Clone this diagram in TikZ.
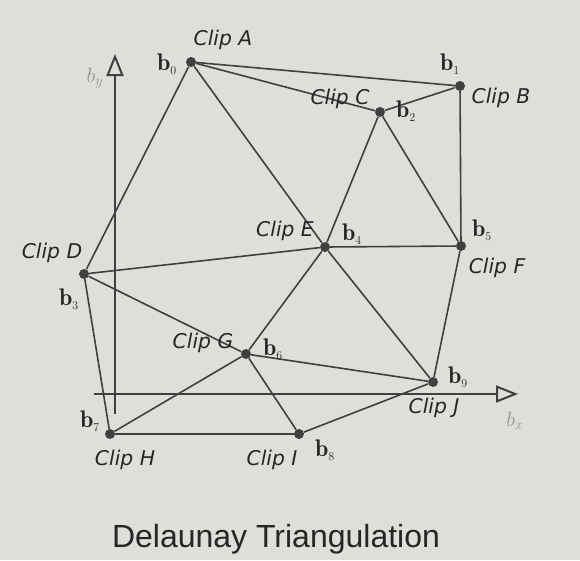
\documentclass[tikz,border=0pt]{standalone}
\usepackage{fontspec}
\setsansfont{DejaVu Sans}
\newfontfamily\titlefont{Liberation Sans}
\usetikzlibrary{arrows.meta}
\definecolor{bg}{RGB}{222,223,218}
\definecolor{ink}{RGB}{64,64,64}
\definecolor{txt}{RGB}{38,38,38}
\definecolor{axlab}{RGB}{150,150,150}
\tikzset{
  edge/.style={draw=ink, line width=1.6pt},
  axis/.style={draw=ink, line width=2pt, -{Triangle[open, length=22pt, width=17pt, line width=2pt]}},
  pt/.style={circle, fill=ink, inner sep=0pt, minimum size=10pt},
  clip/.style={font=\sffamily\itshape\fontsize{20.3}{21}\selectfont, text=txt, inner sep=0pt},
  blab/.style={font=\fontsize{24}{24}\selectfont, text=txt, inner sep=0pt},
  axl/.style={font=\fontsize{21}{21}\selectfont, text=axlab, inner sep=0pt},
}
\newcommand{\bl}[1]{$\mathbf{b}_{\scriptscriptstyle #1}$}
\begin{document}
\begin{tikzpicture}[x=1pt,y=-1pt]
\fill[bg] (0,0) rectangle (580,560);
\useasboundingbox (0,0) rectangle (580,560);
% axes
\coordinate (ax0) at (94,394);
\coordinate (ax1) at (518,394);
\coordinate (ay0) at (115,414);
\coordinate (ay1) at (115,54);
\draw[axis] (ax0) -- (ax1);
\draw[axis] (ay0) -- (ay1);
\node[axl] (lbx) at (515,421) {$b_x$};
\node[axl] (lby) at (95,78) {$b_y$};
% points
\node[pt] (b0) at (191,62) {};
\node[pt] (b1) at (460,86) {};
\node[pt] (b2) at (380,112) {};
\node[pt] (b3) at (84,274) {};
\node[pt] (b4) at (325,247) {};
\node[pt] (b5) at (461,246) {};
\node[pt] (b6) at (246,354) {};
\node[pt] (b7) at (110,434) {};
\node[pt] (b8) at (299,434) {};
\node[pt] (b9) at (433,382) {};
% edges
\path[edge] (b0) -- (b1);
\path[edge] (b0) -- (b2);
\path[edge] (b1) -- (b2);
\path[edge] (b1) -- (b5);
\path[edge] (b0) -- (b3);
\path[edge] (b0) -- (b4);
\path[edge] (b2) -- (b4);
\path[edge] (b2) -- (b5);
\path[edge] (b4) -- (b5);
\path[edge] (b3) -- (b4);
\path[edge] (b3) -- (b6);
\path[edge] (b3) -- (b7);
\path[edge] (b4) -- (b6);
\path[edge] (b4) -- (b9);
\path[edge] (b5) -- (b9);
\path[edge] (b6) -- (b9);
\path[edge] (b6) -- (b7);
\path[edge] (b6) -- (b8);
\path[edge] (b7) -- (b8);
\path[edge] (b8) -- (b9);
% clip labels
\node[clip] (cA) at (223,40) {Clip A};
\node[clip] (cB) at (501,98) {Clip B};
\node[clip] (cC) at (340,99) {Clip C};
\node[clip] (cD) at (52,253) {Clip D};
\node[clip] (cE) at (285,231) {Clip E};
\node[clip] (cF) at (497,268) {Clip F};
\node[clip] (cG) at (203,343) {Clip G};
\node[clip] (cH) at (125,460) {Clip H};
\node[clip] (cI) at (272,460) {Clip I};
\node[clip] (cJ) at (434,408) {Clip J};
% b labels
\node[blab] (l0) at (167,64) {\bl{0}};
\node[blab] (l1) at (450,64) {\bl{1}};
\node[blab] (l2) at (406,111) {\bl{2}};
\node[blab] (l3) at (69,299) {\bl{3}};
\node[blab] (l4) at (352,234) {\bl{4}};
\node[blab] (l5) at (482,230) {\bl{5}};
\node[blab] (l6) at (273,349) {\bl{6}};
\node[blab] (l7) at (90,421) {\bl{7}};
\node[blab] (l8) at (325,450) {\bl{8}};
\node[blab] (l9) at (458,377) {\bl{9}};
% title
\node[font=\titlefont\fontsize{32}{32}\selectfont, text=txt, inner sep=0pt] (title) at (276,539) {Delaunay Triangulation};
\end{tikzpicture}
\end{document}
